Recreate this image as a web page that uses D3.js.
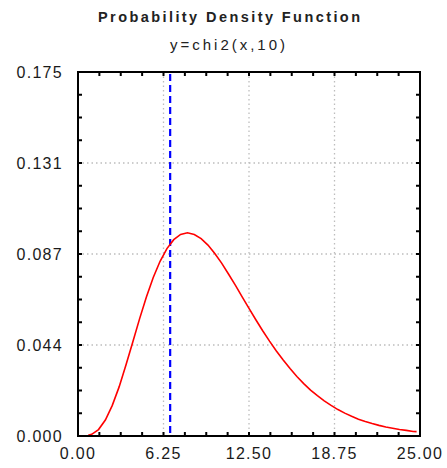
<!DOCTYPE html>
<html><head><meta charset="utf-8">
<script src="https://cdn.jsdelivr.net/npm/d3@7"></script>
<style>body{margin:0;background:#fff}svg{display:block}</style>
</head><body>
<script>
// Data
const xValues = [0.75,1,1.5,2,2.5,3,3.5,4,4.5,5,5.5,6,6.5,7,7.5,8,8.5,9,9.5,10,10.5,11,11.5,12,12.5,13,13.5,14,14.5,15,15.5,16,16.5,17,17.5,18,18.5,19,19.5,20,20.5,21,21.5,22,22.5,23,23.5,24,24.5,24.75];
const yValues = [0.0003,0.0008,0.0031,0.0077,0.0146,0.0235,0.0340,0.0451,0.0563,0.0668,0.0762,0.0840,0.0901,0.0944,0.0969,0.0977,0.0969,0.0949,0.0918,0.0877,0.0831,0.0779,0.0725,0.0669,0.0614,0.0559,0.0506,0.0456,0.0409,0.0365,0.0324,0.0286,0.0252,0.0221,0.0194,0.0169,0.0147,0.0127,0.0110,0.0095,0.0081,0.0070,0.0060,0.0051,0.0043,0.0037,0.0031,0.0027,0.0022,0.0021];
const xTicks = [0, 6.25, 12.5, 18.75, 25];
const xTickLabels = ["0.00","6.25","12.50","18.75","25.00"];
const yTicks = [0, 0.04375, 0.0875, 0.13125, 0.175];
const yTickLabels = ["0.000","0.044","0.087","0.131","0.175"];
const markerX = [6.737];
const titleText = "Probability Density Function";
const subtitleText = "y=chi2(x,10)";

const W = 447, H = 468;
const L = 78, R = 420, T = 72, B = 436;
const svg = d3.select("body").append("svg").attr("width", W).attr("height", H);
const x = d3.scaleLinear().domain([0, 25]).range([L, R]);
const y = d3.scaleLinear().domain([0, 0.175]).range([B, T]);
const font = "'Liberation Sans', Arial, sans-serif";
const txt = "#1a1a1a";

// grid
const gx = xTicks.slice(1, -1), gy = yTicks.slice(1, -1);
svg.append("g").selectAll("line").data(gx).join("line")
  .attr("x1", d => x(d)).attr("x2", d => x(d)).attr("y1", T).attr("y2", B)
  .attr("stroke", "#bdbdbd").attr("stroke-width", 1.3).attr("stroke-dasharray", "1.5,3");
svg.append("g").selectAll("line").data(gy).join("line")
  .attr("y1", d => y(d)).attr("y2", d => y(d)).attr("x1", L).attr("x2", R)
  .attr("stroke", "#bdbdbd").attr("stroke-width", 1.3).attr("stroke-dasharray", "1.5,3");

// minor ticks (inside, all four sides)
const xMinor = d3.range(0, 17).map(i => i * 25 / 16);
const yMinor = d3.range(0, 17).map(i => i * 0.175 / 16);
const tk = svg.append("g").attr("stroke", "#000").attr("stroke-width", 2);
tk.selectAll(".tb").data(xMinor).join("line").attr("class","tb")
  .attr("x1", d => x(d)).attr("x2", d => x(d)).attr("y1", B).attr("y2", B - 4);
tk.selectAll(".tt").data(xMinor).join("line").attr("class","tt")
  .attr("x1", d => x(d)).attr("x2", d => x(d)).attr("y1", T).attr("y2", T + 4);
tk.selectAll(".tl").data(yMinor).join("line").attr("class","tl")
  .attr("y1", d => y(d)).attr("y2", d => y(d)).attr("x1", L).attr("x2", L + 4);
tk.selectAll(".tr").data(yMinor).join("line").attr("class","tr")
  .attr("y1", d => y(d)).attr("y2", d => y(d)).attr("x1", R).attr("x2", R - 4);

// marker line
svg.append("g").selectAll("line").data(markerX).join("line")
  .attr("x1", d => x(d)).attr("x2", d => x(d)).attr("y1", T + 2).attr("y2", B)
  .attr("stroke", "#0000ff").attr("stroke-width", 2.2).attr("stroke-dasharray", "7,4");

// curve
const pts = xValues.map((v, i) => [v, yValues[i]]);
svg.append("path").datum(pts)
  .attr("d", d3.line().x(d => x(d[0])).y(d => y(d[1])))
  .attr("fill", "none").attr("stroke", "#ff0000").attr("stroke-width", 1.6);

// frame
svg.append("rect").attr("x", L).attr("y", T).attr("width", R - L).attr("height", B - T)
  .attr("fill", "none").attr("stroke", "#000").attr("stroke-width", 2);

// axes labels
svg.append("g").selectAll("text").data(xTicks).join("text")
  .attr("x", d => x(d)).attr("y", 459).attr("text-anchor", "middle")
  .attr("font-family", font).attr("font-size", 16).attr("letter-spacing", 1.3).attr("fill", txt)
  .text((d, i) => xTickLabels[i]);
svg.append("g").selectAll("text").data(yTicks).join("text")
  .attr("x", 63).attr("y", d => y(d) + 5.5).attr("text-anchor", "end")
  .attr("font-family", font).attr("font-size", 16).attr("letter-spacing", 1.3).attr("fill", txt)
  .text((d, i) => yTickLabels[i]);

// titles
svg.append("text").attr("x", 98).attr("y", 22).attr("textLength", 262).attr("lengthAdjust", "spacing")
  .attr("font-family", font).attr("font-size", 14.5).attr("font-weight", "bold").attr("fill", "#222")
  .text(titleText);
svg.append("text").attr("x", 170).attr("y", 50).attr("textLength", 115).attr("lengthAdjust", "spacing")
  .attr("font-family", font).attr("font-size", 15).attr("fill", "#222")
  .text(subtitleText);
</script>
</body></html>
